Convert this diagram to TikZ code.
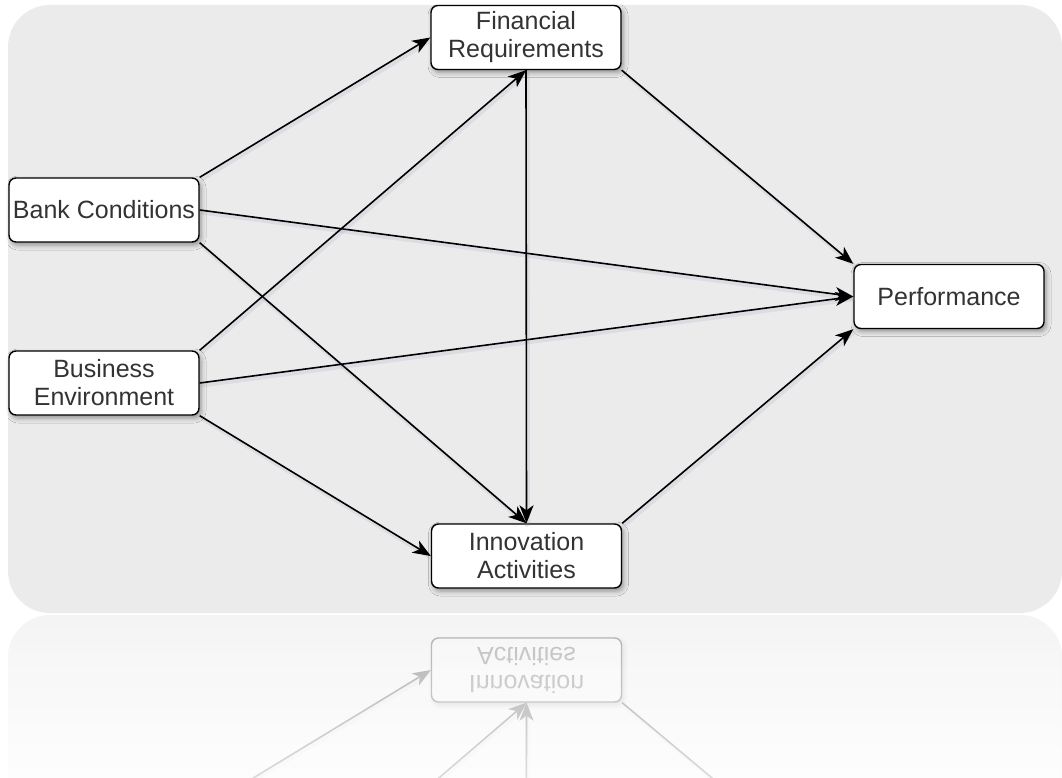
\documentclass[tikz,border=0pt]{standalone}
\usepackage{fontspec}
\setmainfont{Liberation Sans}
\usetikzlibrary{arrows.meta,shadows.blur,fadings}
\definecolor{bg}{HTML}{EBEBEB}
\definecolor{reflbg}{HTML}{F4F4F4}
\definecolor{txt}{HTML}{333333}
\definecolor{shcol}{HTML}{8C8CB0}
\tikzfading[name=fadedown, top color=transparent!100, bottom color=transparent!50]
\begin{document}
\begin{tikzpicture}[x=1pt,y=-1pt,
  box/.style={draw=black, line width=1.4pt, fill=white, rounded corners=7pt,
    minimum width=190pt, minimum height=64pt, inner sep=0pt, align=center,
    text=txt, font=\fontsize{25}{28}\selectfont,
    blur shadow={shadow xshift=2pt, shadow yshift=-3pt, shadow blur radius=5pt, shadow opacity=40}},
  conn/.style={line width=1.6pt, -{Stealth[length=18pt,width=14pt,inset=5pt]},
    preaction={draw=shcol, opacity=0.15, line width=4pt, arrows=-,
      transform canvas={shift={(1.5pt,-2.5pt)}}}}
]
\useasboundingbox (0,0) rectangle (1062,778);
% main background
\fill[bg, rounded corners=42pt] (8,5) rectangle (1062,613);

% nodes
\node[box] (fin)  at (526,37.5) {Financial\\Requirements};
\node[box] (bank) at (104,210) {Bank Conditions};
\node[box] (bus)  at (104,383) {Business\\Environment};
\node[box] (perf) at (949,296.5) {Performance};
\node[box] (inn)  at (526.5,556) {Innovation\\Activities};

% connectors
\draw[conn] (bank.north east) -- (fin.west);
\draw[conn] (bank.east) -- (perf.west);
\draw[conn] (bank.south east) -- (inn.north);
\draw[conn] (bus.north east) -- (fin.south);
\draw[conn] (bus.east) -- (perf.west);
\draw[conn] (bus.south east) -- (inn.west);
\draw[conn] (fin.south) -- (inn.north);
\draw[conn] (fin.south east) -- (perf.north west);
\draw[conn] (inn.north east) -- (perf.south west);

% reflection
\begin{scope}
  \clip (0,615) rectangle (1062,778);
  \shade[top color=reflbg, bottom color=white, rounded corners=42pt] (8,615) rectangle (1062,840);
  \begin{scope}[transparency group, opacity=0.28]
  \begin{scope}[shift={(0,1226)}, yscale=-1, transform shape]
    \node[box] (rinn) at (526.5,556) {Innovation\\Activities};
    \coordinate (rbank) at (199,242);
    \coordinate (rbus) at (199,415);
    \coordinate (rfin) at (526,69);
    \coordinate (rperf) at (854,329);
    \draw[conn] (rbank) -- (rinn.north);
    \draw[conn] (rfin) -- (rinn.north);
    \draw[conn] (rbus) -- (rinn.west);
    \draw[conn] (rinn.north east) -- (rperf);
  \end{scope}
  \end{scope}
  \fill[white, path fading=fadedown] (0,615) rectangle (1062,778);
\end{scope}
\end{tikzpicture}
\end{document}
